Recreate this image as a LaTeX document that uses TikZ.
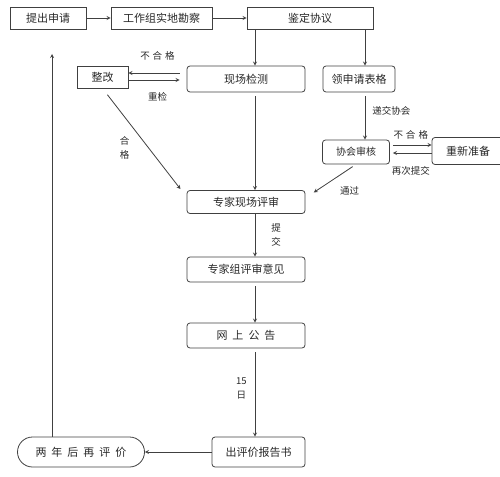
\documentclass[tikz,border=0pt]{standalone}
\usepackage{fontspec}
\usepackage{xcolor}
\usepackage{tikz}
\usetikzlibrary{arrows}
\newfontfamily\cjk{Noto Sans CJK SC}
\definecolor{linecol}{RGB}{64,64,64}
\definecolor{textcol}{RGB}{40,40,40}
\newcommand\gap{\hspace{5pt}}

\begin{document}
\begin{tikzpicture}[x=1pt,y=-1pt,
  every node/.style={text=textcol},
  box/.style={draw=linecol,line width=0.8pt,inner sep=0pt,font=\cjk\fontsize{11}{11}\selectfont},
  rbox/.style={box,rounded corners=3pt},
  lbl/.style={font=\cjk\fontsize{9.5}{14}\selectfont,inner sep=1pt,align=center},
  arr/.style={-stealth,color=linecol,line width=0.8pt}]
  \useasboundingbox (0,0) rectangle (500,476);
  \node[box,minimum width=76pt,minimum height=22pt] (sq) at (48,18) {提出申请};
  \node[box,minimum width=101pt,minimum height=22pt] (kc) at (161.5,18) {工作组实地勘察};
  \node[box,minimum width=126pt,minimum height=22pt] (jd) at (310,18) {鉴定协议};
  \node[box,minimum width=51pt,minimum height=22pt] (zg) at (102.5,77) {整改};
  \node[rbox,minimum width=118pt,minimum height=26pt] (xc) at (246,79) {现场检测};
  \node[rbox,minimum width=72pt,minimum height=26pt] (lb) at (359,79) {领申请表格};
  \node[rbox,minimum width=67pt,minimum height=24pt,font=\cjk\fontsize{10}{10}\selectfont] (xh) at (356,152) {协会审核};
  \node[rbox,minimum width=72pt,minimum height=27pt] (cz) at (468,151) {重新准备};
  \node[rbox,minimum width=118pt,minimum height=23pt] (zp) at (246,202) {专家现场评审};
  \node[rbox,minimum width=118pt,minimum height=25pt] (yj) at (246,269.5) {专家组评审意见};
  \node[rbox,minimum width=118pt,minimum height=25pt] (gg) at (246,335.5) {网\gap 上\gap 公\gap 告};
  \node[rbox,minimum width=93pt,minimum height=30pt] (bg) at (258.5,452) {出评价报告书};
  \node[box,rounded corners=15pt,minimum width=127pt,minimum height=30pt] (ln) at (81,452) {两\gap 年\gap 后\gap 再\gap 评\gap 价};
  \coordinate (back) at (52,54);
  \path[arr]
    (sq) edge (kc)
    (kc) edge (jd)
    ([xshift=-55pt]jd.south) edge ([xshift=9pt]xc.north)
    ([xshift=55pt]jd.south) edge ([xshift=6pt]lb.north)
    ([yshift=6pt]xc.west) edge[shorten <=7pt] node[lbl,above=11pt] {不\hspace{3pt}合\hspace{3pt}格} ([yshift=4pt]zg.east)
    ([yshift=-3pt]zg.east) edge[shorten >=7pt] node[lbl,below=11pt] {重检} ([yshift=-1pt]xc.west)
    (zg.south) edge[shorten <=8pt,shorten >=10pt] node[lbl,pos=0.55,left=18pt] {合\\格} ([yshift=5pt]zp.west)
    ([xshift=9pt]xc.south) edge[shorten <=4pt] ([xshift=9pt]zp.north)
    ([xshift=6pt]lb.south) edge[shorten <=4pt] node[lbl,pos=0.4,right=6pt] {递交协会} ([xshift=9pt]xh.north)
    ([yshift=7pt]xh.east) edge[shorten <=3pt] node[lbl,above=4pt] {不\hspace{3pt}合\hspace{3pt}格} ([yshift=6pt]cz.west)
    ([yshift=-2pt]cz.west) edge[shorten >=3pt] node[lbl,below=12pt] {再次提交} ([yshift=-1pt]xh.east)
    (xh.south) edge[shorten <=4pt,shorten >=10pt] node[lbl,pos=0.5,below right=4pt,xshift=4pt] {通过} ([yshift=4pt]zp.east)
    ([xshift=9pt]zp.south) edge node[lbl,right=15pt] {提\\交} ([xshift=9pt]yj.north)
    ([xshift=9pt]yj.south) edge[shorten <=4pt] ([xshift=9pt]gg.north)
    ([xshift=9pt]gg.south) edge[shorten <=4pt] node[lbl,pos=0.45,left=7pt] {15\\日} ([xshift=-3.5pt]bg.north)
    (bg) edge (ln)
    ([xshift=-29pt]ln.north) edge (back);
\end{tikzpicture}
\end{document}
